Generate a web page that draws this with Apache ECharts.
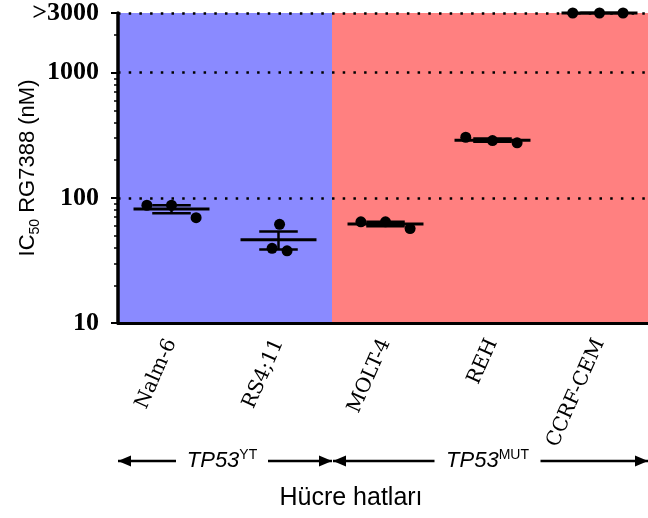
<!DOCTYPE html>
<html>
<head>
<meta charset="utf-8">
<script src="https://cdn.jsdelivr.net/npm/echarts@6/dist/echarts.min.js"></script>
<style>
html,body{margin:0;padding:0;background:#fff;}
#main{width:648px;height:518px;}
</style>
</head>
<body>
<div id="main"></div>
<script>
// cell lines and IC50 replicates (nM), CCRF-CEM shown at the >3000 ceiling
var cellLines = ['Nalm-6', 'RS4;11', 'MOLT-4', 'REH', 'CCRF-CEM'];
var rep1 = [87.3, 61.5, 64.3, 305, 3000];
var rep2 = [87.3, 39.5, 64.3, 287, 3000];
var rep3 = [69.5, 37.7, 56.8, 275, 3000];
var yTicks = [10, 100, 1000, 3000];
var minorTicks = [20, 30, 40, 50, 60, 70, 80, 90, 200, 300, 400, 500, 600, 700, 800, 900, 2000];
var groups = ['TP53|YT', 'TP53|MUT'];

// horizontal spread of the dots inside each column (layout only)
var jitter = [
	[-0.23, 0.01, -0.23, -0.25, -0.25],
	[0, -0.06, 0, 0, 0],
	[0.23, 0.08, 0.23, 0.23, 0.22]
];

var reps = [rep1, rep2, rep3];
var dots = [], bars = [];
for (var i = 0; i < cellLines.length; i++) {
	var vals = [];
	for (var r = 0; r < reps.length; r++) {
		dots.push([i + jitter[r][i], reps[r][i]]);
		vals.push(reps[r][i]);
	}
	var m = (vals[0] + vals[1] + vals[2]) / 3;
	var ss = 0;
	vals.forEach(function(v){ ss += (v - m) * (v - m); });
	var sem = Math.sqrt(ss / (vals.length - 1)) / Math.sqrt(vals.length);
	bars.push([i, m, m - sem, m + sem]);
}

var myChart = echarts.init(document.getElementById('main'));
var option = {
	animation: false,
	grid: {left: 118, right: -5, top: 13, bottom: 195, outerBoundsMode: 'none'},
	xAxis: [
		{
			type: 'category',
			data: cellLines,
			z: 2,
			axisLine: {onZero: false, lineStyle: {color: '#000', width: 3}},
			axisTick: {alignWithLabel: true, length: 7, lineStyle: {color: '#000', width: 3}},
			axisLabel: {
				rotate: 66, margin: 17, color: '#000',
				fontFamily: 'DejaVu Serif', fontSize: 20
			}
		},
		{
			type: 'value', min: -0.5, max: 4.5, show: false
		}
	],
	yAxis: [
		{
			type: 'log',
			min: 10, max: 3000,
			z: 2,
			axisLine: {show: true, onZero: false, lineStyle: {color: '#000', width: 3.5}},
			axisTick: {show: true, length: 7, lineStyle: {color: '#000', width: 2}},
			axisLabel: {
				margin: 19, color: '#000',
				fontFamily: 'Liberation Serif', fontWeight: 'bold', fontSize: 26,
				formatter: function(v){
					v = Math.round(v);
					return v >= 2999 ? '>3000' : String(v);
				}
			},
			splitLine: {show: true, lineStyle: {color: '#000', width: 2.5, type: [2.5, 8.2]}},
			name: '{a|IC}{s|50}{a| RG7388 (nM)}',
			nameLocation: 'middle',
			nameMoveOverlap: false,
			nameGap: 76,
			nameTextStyle: {
				rich: {
					a: {fontFamily: 'Liberation Sans', fontSize: 22, color: '#000', lineHeight: 28},
					s: {fontFamily: 'Liberation Sans', fontSize: 14, color: '#000', verticalAlign: 'bottom', lineHeight: 20}
				}
			}
		},
		{
			type: 'log',
			min: 10, max: 3000,
			position: 'left',
			z: 2,
			axisLine: {show: false, onZero: false},
			axisLabel: {show: false},
			splitLine: {show: false},
			axisTick: {show: true, length: 4, customValues: minorTicks, lineStyle: {color: '#000', width: 1.5}}
		}
	],
	series: [
		{
			type: 'line',
			xAxisIndex: 1,
			data: [],
			markArea: {
				silent: true,
				data: [
					[{xAxis: -0.5, itemStyle: {color: '#8a8aff'}}, {xAxis: 1.5}],
					[{xAxis: 1.5, itemStyle: {color: '#ff8080'}}, {xAxis: 4.5}]
				]
			}
		},
		{
			type: 'custom',
			xAxisIndex: 1,
			z: 3,
			data: bars,
			renderItem: function(params, api){
				var x = api.value(0);
				var pm = api.coord([x, api.value(1)]);
				var plo = api.coord([x, api.value(2)]);
				var phi = api.coord([x, api.value(3)]);
				var unit = api.coord([x + 1, api.value(1)])[0] - pm[0];
				var mw = unit * 0.355, cw = unit * 0.18;
				var st = {stroke: '#000', lineWidth: 2.5};
				return {
					type: 'group',
					children: [
						{type: 'line', shape: {x1: pm[0] - mw, y1: pm[1], x2: pm[0] + mw, y2: pm[1]}, style: {stroke: '#000', lineWidth: 3}},
						{type: 'line', shape: {x1: pm[0], y1: plo[1], x2: pm[0], y2: phi[1]}, style: st},
						{type: 'line', shape: {x1: pm[0] - cw, y1: plo[1], x2: pm[0] + cw, y2: plo[1]}, style: st},
						{type: 'line', shape: {x1: pm[0] - cw, y1: phi[1], x2: pm[0] + cw, y2: phi[1]}, style: st}
					]
				};
			}
		},
		{
			type: 'scatter',
			xAxisIndex: 1,
			z: 4,
			symbolSize: 11,
			itemStyle: {color: '#000', opacity: 1},
			data: dots
		}
	]
};
myChart.setOption(option);

// group arrows under the axis labels
function arrow(x1, x2, y, dir){
	var tip = dir < 0 ? x1 : x2;
	return [
		{type: 'line', shape: {x1: x1, y1: y, x2: x2, y2: y}, style: {stroke: '#000', lineWidth: 2.5}},
		{type: 'polygon', shape: {points: [[tip, y], [tip - dir * 13, y - 5.5], [tip - dir * 13, y + 5.5]]}, style: {fill: '#000'}}
	];
}
var edges = [-0.5, 1.5, 4.5].map(function(v){
	return myChart.convertToPixel({xAxisIndex: 1}, v);
});
var halfText = [46, 53];
var ay = 461;
var elems = [];
for (var g = 0; g < groups.length; g++) {
	var left = edges[g] + (g > 0 ? 1 : 0), right = Math.min(edges[g + 1], 648);
	var cx = (left + right) / 2 - 3;
	var parts = groups[g].split('|');
	elems = elems.concat(arrow(left, cx - halfText[g], ay, -1));
	elems = elems.concat(arrow(cx + halfText[g], right, ay, 1));
	elems.push({
		type: 'text', x: cx, y: ay,
		style: {
			text: '{i|' + parts[0] + '}{s|' + parts[1] + '}',
			align: 'center', verticalAlign: 'middle',
			rich: {
				i: {fontFamily: 'Liberation Sans', fontStyle: 'italic', fontSize: 22, fill: '#000', lineHeight: 26},
				s: {fontFamily: 'Liberation Sans', fontSize: 14, fill: '#000', verticalAlign: 'top', lineHeight: 14}
			}
		}
	});
}
// x axis title, centred under the arrows as in the figure
elems.push({
	type: 'text', x: 351, y: 498,
	style: {text: 'Hücre hatları', align: 'center', verticalAlign: 'middle', fontFamily: 'Liberation Sans', fontSize: 25, fill: '#000'}
});
myChart.setOption({graphic: elems});
</script>
</body>
</html>
